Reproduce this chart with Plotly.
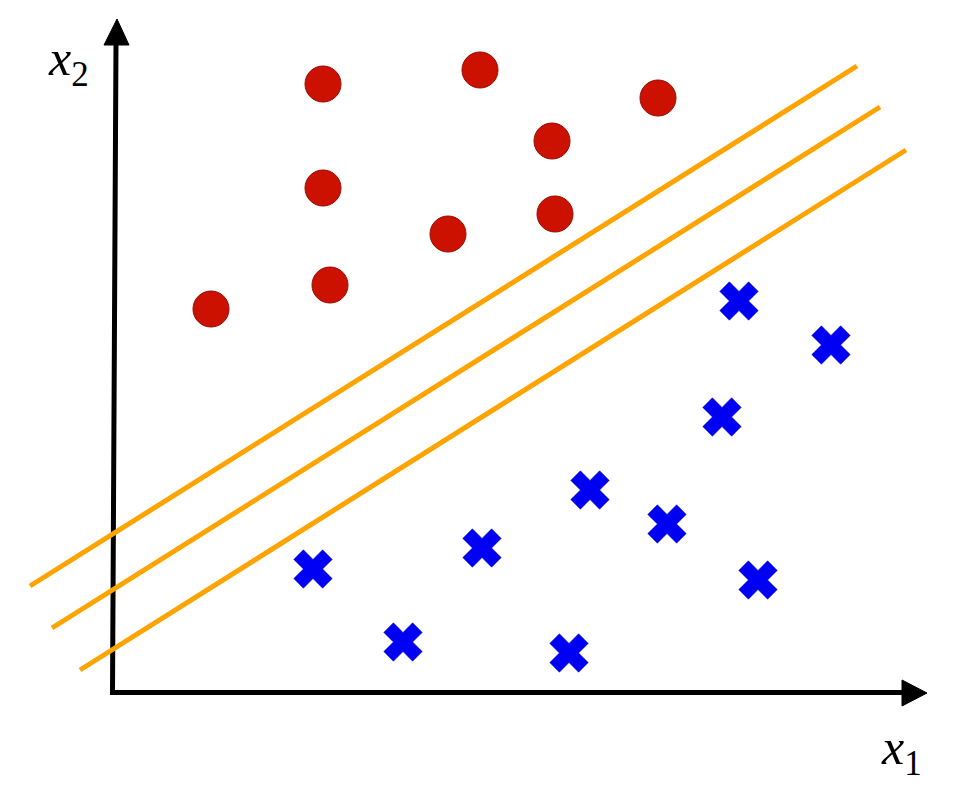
import plotly.graph_objects as go

# Class +1 (red circles): feature coordinates
red_x1 = [2.13, 3.70, 5.48, 4.42, 2.13, 4.45, 3.38, 2.20, 1.01]
red_x2 = [6.08, 6.22, 5.94, 5.51, 5.04, 4.78, 4.58, 4.07, 3.83]

# Class -1 (blue crosses)
blue_x1 = [6.29, 7.21, 6.12, 4.80, 5.57, 3.72, 2.03, 6.48, 2.93, 4.59]
blue_x2 = [3.91, 3.47, 2.75, 2.02, 1.68, 1.44, 1.23, 1.12, 0.50, 0.39]

# Margin lines and decision boundary (endpoints)
margin_upper_x1 = [-0.80, 7.47]
margin_upper_x2 = [1.06, 6.26]
boundary_x1 = [-0.58, 7.70]
boundary_x2 = [0.64, 5.85]
margin_lower_x1 = [-0.30, 7.96]
margin_lower_x2 = [0.22, 5.42]

ORANGE = "rgb(255,163,0)"

fig = go.Figure()

for lx, ly in [(margin_upper_x1, margin_upper_x2),
               (boundary_x1, boundary_x2),
               (margin_lower_x1, margin_lower_x2)]:
    fig.add_trace(go.Scatter(x=lx, y=ly, mode="lines",
                             line=dict(color=ORANGE, width=5),
                             hoverinfo="skip", showlegend=False))

fig.add_trace(go.Scatter(x=red_x1, y=red_x2, mode="markers",
                         marker=dict(symbol="circle", size=36, color="rgb(204,17,0)",
                                     line=dict(color="rgb(150,12,0)", width=1)),
                         showlegend=False))
fig.add_trace(go.Scatter(x=blue_x1, y=blue_x2, mode="markers",
                         marker=dict(symbol="x", size=34, color="rgb(0,0,245)",
                                     line=dict(color="rgb(0,0,200)", width=0.5)),
                         showlegend=False))

# Axis arrows
fig.add_shape(type="path", layer="below",
              path="M 0.06 6.50 L 0.025 -0.005 L 7.92 -0.005",
              line=dict(color="black", width=5), xref="x", yref="y")
fig.add_shape(type="path", layer="below",
              path="M 0.07 6.73 L -0.06 6.47 L 0.19 6.47 Z",
              fillcolor="black", line=dict(color="black", width=1), xref="x", yref="y")
fig.add_shape(type="path", layer="below",
              path="M 8.17 -0.01 L 7.92 0.12 L 7.92 -0.14 Z",
              fillcolor="black", line=dict(color="black", width=1), xref="x", yref="y")

font = dict(family="Liberation Serif", size=50, color="black")
fig.add_annotation(x=-0.42, y=6.30, text="<i>x</i><sub>2</sub>", showarrow=False,
                   xanchor="center", yanchor="middle", font=font)
fig.add_annotation(x=7.91, y=-0.59, text="<i>x</i><sub>1</sub>", showarrow=False,
                   xanchor="center", yanchor="middle", font=font)

fig.update_xaxes(range=[-1.02, 8.50], visible=False, fixedrange=True)
fig.update_yaxes(range=[-0.94, 6.84], visible=False, fixedrange=True)
fig.update_layout(width=952, height=778, margin=dict(l=0, r=0, t=0, b=0),
                  plot_bgcolor="white", paper_bgcolor="white", showlegend=False)

fig.write_html("out.html")
